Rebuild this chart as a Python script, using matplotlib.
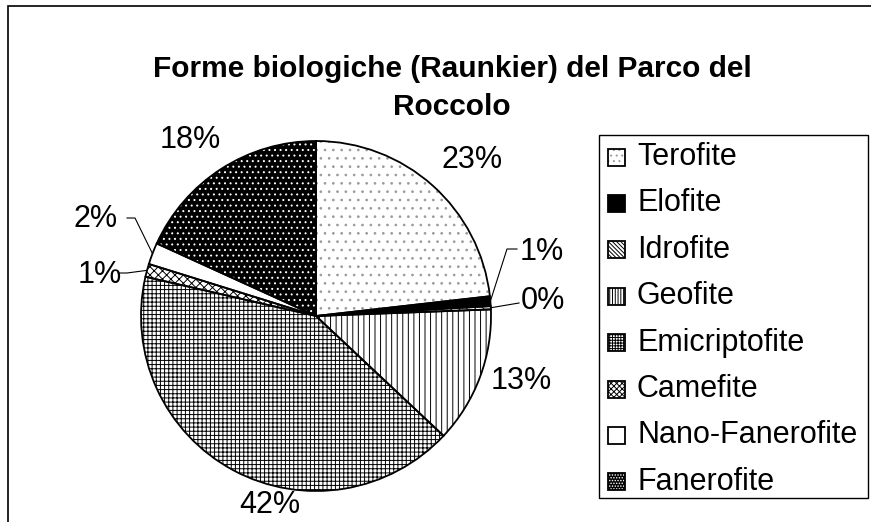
import numpy as np
import matplotlib
matplotlib.use('Agg')
import matplotlib.pyplot as plt
from matplotlib.patches import Rectangle

plt.rcParams['font.family'] = ['Liberation Sans', 'DejaVu Sans']
plt.rcParams['hatch.linewidth'] = 0.7

# data
forms = ['Terofite', 'Elofite', 'Idrofite', 'Geofite', 'Emicriptofite',
         'Camefite', 'Nano-Fanerofite', 'Fanerofite']
shares = [23.2, 0.9, 0.3, 12.6, 41.6, 1.2, 2.0, 18.2]

# styles: face colour, hatch, hatch colour
faces = ['white', 'black', 'white', 'white', 'white', 'white', 'white', 'black']
hatches = ['..', None, '\\\\\\\\', '|||', '++++', 'xxxx', None, '...']
hatch_cols = ['#9a9a9a', 'black', 'black', 'black', 'black', 'black', 'black', 'white']
# denser patterns for the small legend squares
leg_hatches = ['...', None, '\\\\\\\\\\\\\\\\', '||||||', '++++++', 'xxxxxx', None, '......']

# layout in pixels (from top-left of the 871x522 image)
W, H = 871, 522
cx, cy, R = 316, 316, 175
label_pos = [(472, 160), (542, 252), (543, 301), (521, 381),
             (270, 505), (100, 275), (96, 219), (190, 140)]
# elbows of the leader lines (None = no leader)
leaders = [None, [(507, 249), (517, 249)], [(519, 303)], None, None,
           [(127, 273), (118, 273)], [(135, 218), (127, 218)], None]

fig = plt.figure(figsize=(W / 100, H / 100), dpi=100)
ax = fig.add_axes([0, 0, 1, 1])

center = (cx, H - cy)
wedges, _ = ax.pie(shares, startangle=90, counterclock=False, center=center,
                   radius=R, wedgeprops=dict(linewidth=0), frame=True)
for w, fc, h, hc in zip(wedges, faces, hatches, hatch_cols):
    w.set_facecolor(fc)
    w.set_edgecolor(hc)
    w.set_hatch(h)
# outlines on top
ax.pie(shares, startangle=90, counterclock=False, center=center,
       radius=R, frame=True,
       wedgeprops=dict(fill=False, edgecolor='black', linewidth=1.3))
ax.set_xlim(0, W)
ax.set_ylim(0, H)
ax.set_aspect('equal')
ax.axis('off')

# percentage labels and leader lines
cum = np.cumsum([0] + shares[:-1])
for i, v in enumerate(shares):
    x, y = label_pos[i]
    ax.text(x, H - y, '%.0f%%' % v, ha='center', va='center', fontsize=22)
    if leaders[i] is not None:
        mid = np.deg2rad((cum[i] + v / 2) / 100 * 360)
        px = cx + R * np.sin(mid)
        py = cy - R * np.cos(mid)
        pts = [(px, py)] + leaders[i]
        ax.plot([p[0] for p in pts], [H - p[1] for p in pts],
                color='black', linewidth=0.8)

# title
ax.text(452, H - 88, 'Forme biologiche (Raunkier) del Parco del\nRoccolo',
        ha='center', va='center', fontsize=21.5, fontweight='bold',
        linespacing=1.45)

# outer chart frame
ax.add_patch(Rectangle((8, -10), W, H - 6 + 10, fill=False,
                       edgecolor='black', linewidth=1.2, clip_on=False))

# legend, drawn by hand
lx0, ly0, lx1, ly1 = 599, 135, 868, 498
ax.add_patch(Rectangle((lx0, H - ly1), lx1 - lx0, ly1 - ly0, fill=False,
                       edgecolor='black', linewidth=1.0))
row0, step, box = 157, 46.4, 17
for i, name in enumerate(forms):
    yc = row0 + i * step
    ax.add_patch(Rectangle((608, H - yc - box / 2), box, box,
                           facecolor=faces[i], hatch=leg_hatches[i],
                           edgecolor=hatch_cols[i], linewidth=0))
    ax.add_patch(Rectangle((608, H - yc - box / 2), box, box, fill=False,
                           edgecolor='black', linewidth=1.3))
    ax.text(637, H - yc, name, ha='left', va='center', fontsize=22)

fig.savefig('out.png', dpi=100, facecolor='white')
